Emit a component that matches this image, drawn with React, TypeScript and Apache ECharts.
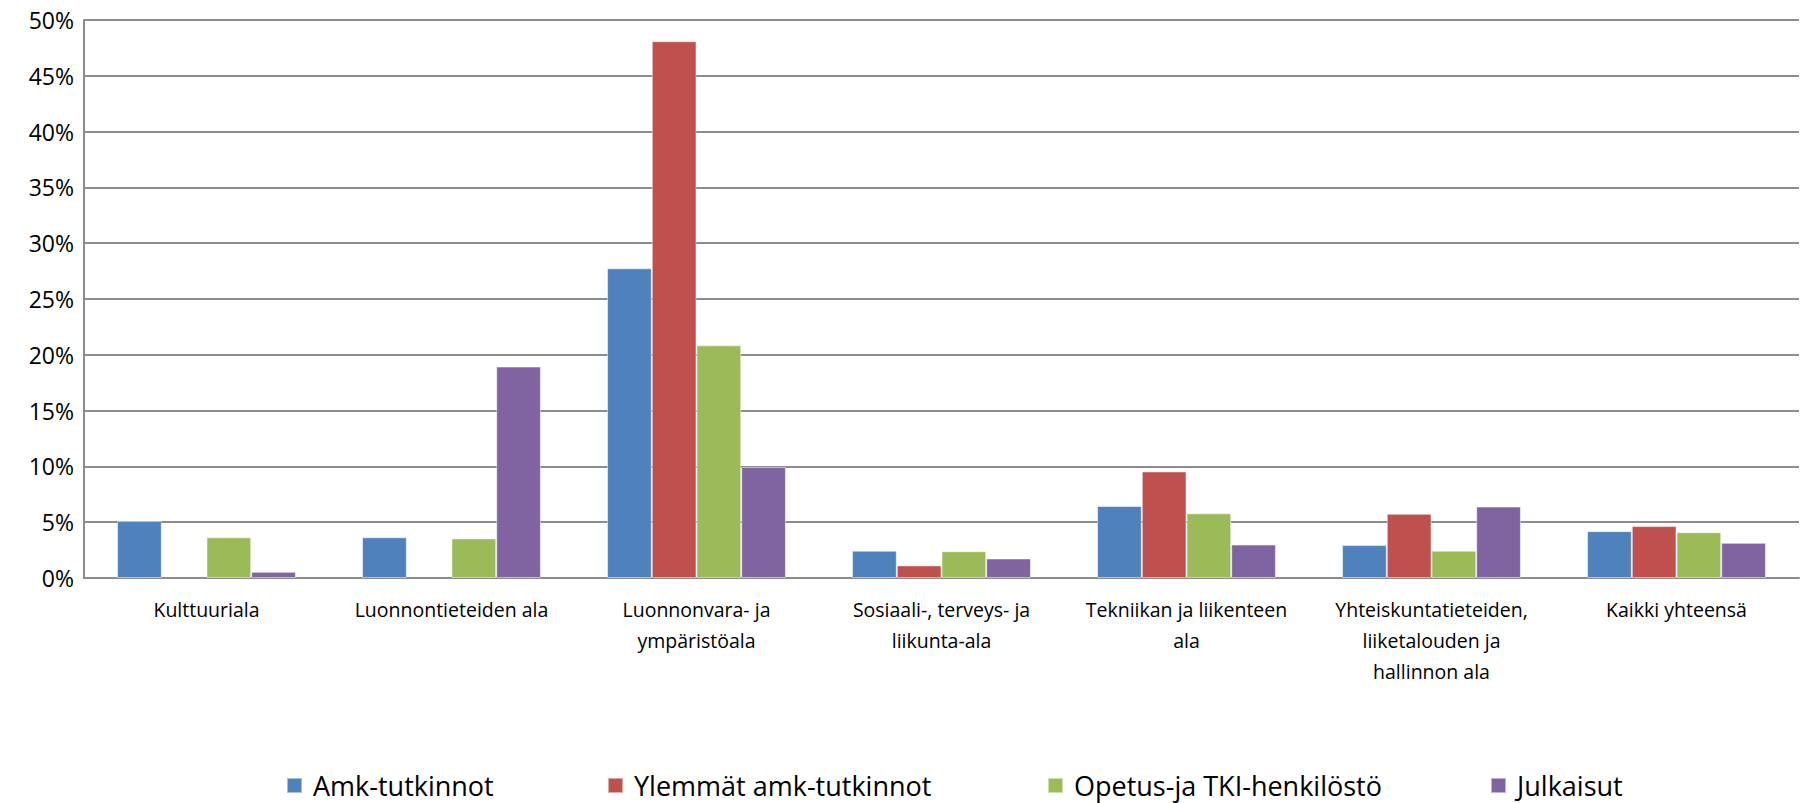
import React, { useEffect, useRef } from "react";
import * as echarts from "echarts";

const categories = [
  "Kulttuuriala",
  "Luonnontieteiden ala",
  "Luonnonvara- ja\nympäristöala",
  "Sosiaali-, terveys- ja\nliikunta-ala",
  "Tekniikan ja liikenteen\nala",
  "Yhteiskuntatieteiden,\nliiketalouden ja\nhallinnon ala",
  "Kaikki yhteensä",
];

const seriesNames = ["Amk-tutkinnot", "Ylemmät amk-tutkinnot", "Opetus-ja TKI-henkilöstö", "Julkaisut"];
const amkTutkinnot = [5.1, 3.65, 27.75, 2.45, 6.45, 2.95, 4.2];
const ylemmatAmk = [null, null, 48.1, 1.13, 9.55, 5.75, 4.65];
const opetusTki = [3.65, 3.55, 20.85, 2.4, 5.8, 2.45, 4.1];
const julkaisut = [0.55, 18.95, 9.95, 1.75, 3.0, 6.4, 3.15];
const colors = ["#4F81BD", "#C0504D", "#9BBB59", "#8064A2"];
const legendLeft = [286, 607, 1047, 1490];

const FONT = "'Open Sans', 'Noto Sans', sans-serif";

export default function App() {
  const ref = useRef<HTMLDivElement>(null);
  useEffect(() => {
    if (!ref.current) return;
    const chart = echarts.init(ref.current, undefined, { renderer: "svg" });
    const values = [amkTutkinnot, ylemmatAmk, opetusTki, julkaisut];
    chart.setOption({
      animation: false,
      backgroundColor: "#ffffff",
      textStyle: { fontFamily: FONT },
      legend: seriesNames.map((name, i) => ({
        data: [name],
        left: legendLeft[i],
        top: 771,
        padding: 0,
        itemWidth: 15,
        itemHeight: 15,
        itemGap: 8,
        icon: "rect",
        textStyle: { fontSize: 27, lineHeight: 29, color: "#000", fontFamily: FONT, padding: [0, 0, 0, 6] },
      })),
      grid: { left: 84, right: 1, top: 20, bottom: 225, containLabel: false },
      xAxis: {
        type: "category",
        data: categories,
        axisLine: { lineStyle: { color: "#8c8c8c", width: 2 } },
        axisTick: { show: false },
        axisLabel: {
          interval: 0,
          color: "#000",
          fontSize: 19.5,
          lineHeight: 31,
          margin: 16,
          fontFamily: FONT,
        },
      },
      yAxis: {
        type: "value",
        min: 0,
        max: 50,
        interval: 5,
        axisLine: { show: true, lineStyle: { color: "#8c8c8c", width: 2 } },
        axisTick: { show: false },
        splitLine: { lineStyle: { color: "#8c8c8c", width: 2 } },
        axisLabel: {
          formatter: "{value}%",
          color: "#000",
          fontSize: 23,
          margin: 10,
          fontFamily: FONT,
        },
      },
      series: seriesNames.map((name, i) => ({
        name,
        type: "bar",
        data: values[i],
        barGap: "0%",
        barCategoryGap: "27%",
        itemStyle: { color: colors[i], borderColor: "rgba(255,255,255,0.5)", borderWidth: 1 },
      })),
    });
    return () => chart.dispose();
  }, []);
  return <div ref={ref} style={{ width: 1800, height: 803, position: "absolute", left: 0, top: 0 }} />;
}
